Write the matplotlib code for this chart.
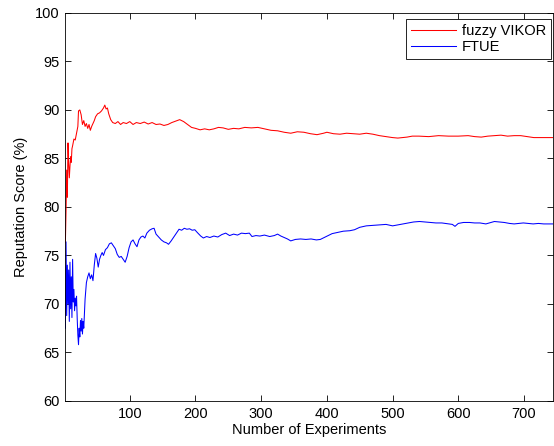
import matplotlib
matplotlib.use("Agg")
import matplotlib.pyplot as plt

vikor_x = [2, 3, 4, 5, 6, 7, 8, 9, 10, 11, 12, 13, 15, 17, 19, 21, 22, 24, 26, 28,
           30, 32, 34, 36, 38, 40, 42, 44, 46, 48, 51, 54, 57, 60, 62, 64, 66, 68, 71, 74,
           78, 82, 86, 90, 95, 100, 105, 110, 116, 122, 128, 134, 140, 146, 152, 158, 164, 170, 176, 182,
           188, 194, 200, 207, 214, 221, 228, 235, 242, 250, 258, 266, 275, 285, 295, 305, 315, 325, 335, 345,
           355, 365, 375, 385, 395, 400, 410, 420, 430, 440, 450, 460, 470, 480, 490, 500, 508, 515, 522, 530,
           540, 555, 570, 585, 600, 615, 625, 635, 645, 655, 665, 675, 685, 695, 705, 715, 730, 744]
vikor_y = [76.3, 79.5, 83.8, 81.0, 86.6, 84.5, 83.0, 84.2, 85.2, 84.6, 86.0, 86.3, 87.0, 86.9, 87.6, 88.3, 89.9, 90.0, 89.5, 88.5,
           88.9, 88.3, 88.6, 88.1, 88.5, 87.9, 88.3, 88.6, 88.9, 89.3, 89.6, 89.7, 89.9, 90.2, 90.5, 90.1, 90.2, 89.6, 89.0, 88.7,
           88.6, 88.8, 88.5, 88.7, 88.6, 88.8, 88.5, 88.7, 88.6, 88.75, 88.55, 88.7, 88.5, 88.55, 88.4, 88.5, 88.7, 88.85, 89.0, 88.8,
           88.5, 88.2, 88.1, 87.95, 88.05, 87.95, 88.05, 88.2, 88.15, 88.0, 88.1, 88.05, 88.2, 88.15, 88.2, 88.05, 87.9, 87.85, 87.7, 87.6,
           87.75, 87.7, 87.55, 87.45, 87.6, 87.7, 87.55, 87.5, 87.6, 87.55, 87.5, 87.6, 87.5, 87.35, 87.25, 87.15, 87.1, 87.15, 87.2, 87.3,
           87.3, 87.25, 87.35, 87.3, 87.3, 87.35, 87.25, 87.2, 87.3, 87.35, 87.4, 87.3, 87.35, 87.35, 87.25, 87.15, 87.15, 87.15]

ftue_x = [2, 3, 4, 5, 6, 7, 8, 9, 10, 11, 12, 13, 14, 15, 16, 17, 18, 19, 20, 21,
          22, 23, 24, 25, 26, 27, 28, 29, 30, 32, 34, 36, 38, 40, 42, 44, 46, 48, 50, 52,
          54, 56, 58, 60, 63, 66, 69, 72, 75, 78, 81, 84, 87, 90, 93, 96, 99, 102, 105, 108,
          111, 114, 117, 120, 123, 126, 130, 134, 137, 140, 144, 148, 152, 156, 159, 163, 167, 171, 175, 179,
          183, 187, 191, 195, 199, 203, 208, 212, 217, 222, 228, 234, 240, 246, 252, 258, 264, 270, 276, 282,
          286, 292, 298, 305, 313, 320, 325, 330, 335, 340, 345, 352, 360, 368, 376, 384, 390, 396, 402, 408,
          415, 425, 435, 442, 450, 460, 470, 480, 490, 500, 508, 516, 524, 532, 541, 550, 558, 566, 575, 585,
          591, 595, 600, 608, 617, 625, 633, 642, 650, 655, 662, 670, 678, 685, 692, 699, 706, 714, 722, 730,
          737, 744]
ftue_y = [67.5, 76.4, 68.8, 74.0, 70.0, 73.5, 68.2, 74.3, 69.5, 72.8, 68.6, 74.6, 70.2, 71.5, 69.3, 70.6, 69.8, 70.8, 68.5, 66.8,
          65.8, 67.5, 66.6, 68.3, 67.2, 68.5, 66.9, 68.2, 67.5, 70.5, 72.2, 72.8, 73.2, 72.6, 73.0, 72.4, 74.0, 75.2, 74.7, 73.8,
          74.6, 75.0, 75.3, 75.0, 75.6, 75.8, 76.2, 76.3, 76.0, 75.7, 75.1, 74.8, 74.9, 74.6, 74.3, 74.9, 75.8, 76.4, 76.6, 76.2,
          75.9, 76.6, 76.9, 77.0, 76.8, 77.3, 77.6, 77.75, 77.8, 77.2, 76.9, 76.6, 76.4, 76.3, 76.15, 76.5, 76.9, 77.3, 77.7, 77.6,
          77.8, 77.7, 77.75, 77.6, 77.65, 77.35, 77.0, 76.8, 76.95, 76.85, 77.0, 76.9, 77.15, 77.3, 77.05, 77.2, 77.1, 77.3, 77.25, 77.3,
          76.95, 77.05, 77.0, 77.1, 76.95, 77.05, 77.2, 77.0, 76.85, 76.7, 76.5, 76.65, 76.7, 76.65, 76.7, 76.6, 76.65, 76.85, 77.05, 77.25,
          77.35, 77.5, 77.55, 77.65, 77.9, 78.05, 78.1, 78.15, 78.2, 78.05, 78.15, 78.25, 78.35, 78.45, 78.5, 78.45, 78.4, 78.35, 78.35, 78.25,
          78.2, 78.0, 78.3, 78.4, 78.4, 78.35, 78.35, 78.25, 78.4, 78.5, 78.45, 78.4, 78.3, 78.25, 78.3, 78.35, 78.3, 78.25, 78.3, 78.25,
          78.25, 78.25]

y_ticks = [60, 65, 70, 75, 80, 85, 90, 95, 100]
x_ticks = [100, 200, 300, 400, 500, 600, 700]

plt.rcParams["font.family"] = ["Liberation Sans", "DejaVu Sans"]
plt.rcParams["font.size"] = 10.5

fig = plt.figure(figsize=(5.54, 4.46), dpi=100)
ax = fig.add_axes([0.118, 0.101, 0.880, 0.870])

ax.plot(vikor_x, vikor_y, color="#ff0000", lw=0.75, label="fuzzy VIKOR")
ax.plot(ftue_x, ftue_y, color="#0000ff", lw=0.75, label="FTUE")

ax.set_xlim(2, 744)
ax.set_ylim(60, 100)
ax.set_xticks(x_ticks)
ax.set_yticks(y_ticks)
ax.tick_params(direction="in", top=True, right=True, length=4, width=0.6, labelsize=10.5, pad=4)
for s in ax.spines.values():
    s.set_linewidth(0.6)

ax.set_xlabel("Number of Experiments", fontsize=10.5, labelpad=2)
ax.set_ylabel("Reputation Score (%)", fontsize=10.5, labelpad=5)

# legend box hugs the top-right corner like the reference
leg = ax.legend(loc="upper right", bbox_to_anchor=(0.996, 0.985), fontsize=10.5,
                fancybox=False, framealpha=1, edgecolor="black",
                handlelength=3.1, handletextpad=0.35, borderaxespad=0.0,
                borderpad=0.35, labelspacing=0.15)
leg.get_frame().set_linewidth(0.6)

fig.savefig("out.png", dpi=100)
